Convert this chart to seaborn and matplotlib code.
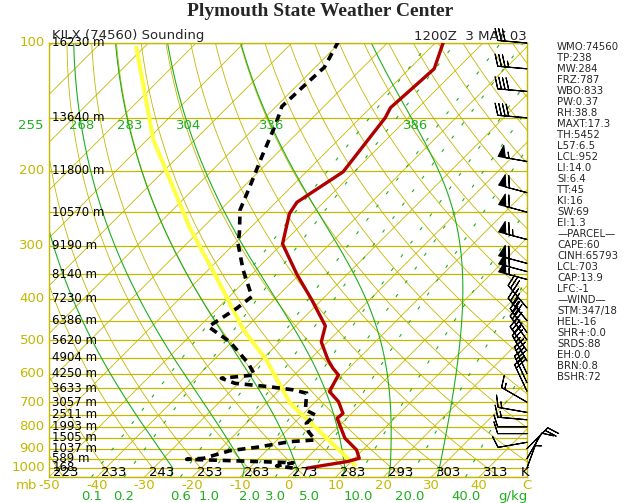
import numpy as np
import pandas as pd
import matplotlib
matplotlib.use("Agg")
import matplotlib.pyplot as plt
import seaborn as sns

# sounding values (pressure mb, temperature C)
temp_p = [99, 115, 142, 150, 201, 237, 252, 297, 351, 402, 463, 505, 557, 583,
          604, 661, 698, 744, 764, 851, 907, 949, 966, 989, 1001]
temp_t = [-58.6, -54.8, -55.8, -54.8, -52.3, -55.6, -54.8, -49.9, -40.4, -32.1,
          -23.8, -21.3, -16.1, -13.3, -10.8, -9.2, -5.2, -1.8, -2.0, 3.8, 8.7,
          11.0, 9.1, 4.4, 2.1]
dew_p = [99, 114, 127, 141, 155, 185, 218, 247, 280, 297, 342, 395, 421, 465,
         505, 567, 604, 615, 632, 644, 655, 667, 698, 730, 750, 785, 821, 859,
         867, 894, 910, 949, 954, 961, 972, 989, 1000]
dew_t = [-80.6, -78.1, -78.5, -78.8, -76.4, -72.5, -68.7, -65.9, -61.2, -59.2,
         -52.7, -45.3, -46.0, -48.1, -40.4, -32.1, -28.3, -34.6, -30.7, -22.7,
         -17.1, -13.6, -12.0, -10.4, -7.3, -7.4, -5.2, -2.1, -7.0, -12.8, -17.6,
         -21.6, -24.9, -15.5, -1.9, -4.7, -0.9]
parcel_p = [102.6, 169, 273, 349, 473, 557, 704, 984]
parcel_t = [-121.5, -98.7, -72.5, -57.9, -40.1, -29.0, -15.0, 11.5]

wind_p = [100, 115, 130, 150, 190, 225, 250, 290, 330, 345, 360, 420, 450, 480,
          500, 530, 560, 600, 630, 660, 700, 740, 770, 800, 830, 870, 900, 950, 1000]
wind_dir = [275, 275, 275, 275, 280, 285, 285, 285, 285, 285, 285, 320, 320, 325,
            325, 325, 330, 335, 335, 335, 300, 280, 275, 270, 270, 260, 45, 30, 20]
wind_spd = [30, 35, 40, 40, 55, 60, 60, 65, 60, 60, 55, 35, 35, 30,
            30, 30, 25, 25, 25, 20, 15, 15, 15, 10, 10, 10, 20, 10, 5]

isobars = list(range(100, 1051, 50))
p_labels = [100, 200, 300, 400, 500, 600, 700, 800, 900, 1000]
hgt_p = [100, 150, 200, 250, 300, 350, 400, 450, 500, 550, 600, 650, 700, 750,
         800, 850, 900, 950, 1000]
hgt_txt = ["16230 m", "13640 m", "11800 m", "10570 m", "9190 m", "8140 m",
           "7230 m", "6386 m", "5620 m", "4904 m", "4250 m", "3633 m", "3057 m",
           "2511 m", "1993 m", "1505 m", "1037 m", "589 m", "168"]
theta_lbl = [223, 233, 243, 253, 263, 273, 283, 293, 303, 313]
moist_start = [-26, -11, 0, 10, 19.5, 29.8]
moist_txt = ["255", "268", "283", "304", "336", "386"]
mix_vals = [0.1, 0.2, 0.6, 1.0, 2.0, 3.0, 5.0, 10.0, 20.0, 40.0]
stats = ["WMO:74560", "TP:238", "MW:284", "FRZ:787", "WBO:833", "PW:0.37",
         "RH:38.8", "MAXT:17.3", "TH:5452", "L57:6.5", "LCL:952", "LI:14.0",
         "SI:6.4", "TT:45", "KI:16", "SW:69", "EI:1.3", "\u2014PARCEL\u2014",
         "CAPE:60", "CINH:65793", "LCL:703", "CAP:13.9", "LFC:-1", "\u2014WIND\u2014",
         "STM:347/18", "HEL:-16", "SHR+:0.0", "SRDS:88", "EH:0.0", "BRN:0.8",
         "BSHR:72"]

OLIVE = "#c4b800"
GREEN = "#1fae1f"
SKEW = 88.9
P0 = 1050.0


def skew_x(t, p):
    return np.asarray(t, float) + SKEW * np.log10(P0 / np.asarray(p, float))


def moist_adiabat(t0, pres):
    # simple pseudo-adiabatic integration from 1000 mb
    out = []
    t = t0 + 273.15
    prev = pres[0]
    for p in pres:
        dp = p - prev
        tc = t - 273.15
        es = 6.112 * np.exp(17.67 * tc / (tc + 243.5))
        rs = 0.622 * es / (p - es)
        num = 287.0 * t + 2.5e6 * rs
        den = 1004.0 + 2.5e6 ** 2 * rs * 0.622 / (287.0 * t * t)
        t = t + dp * (num / den) / p
        out.append(t - 273.15)
        prev = p
    return np.array(out)


sns.set_style("white")
plt.rcParams["font.family"] = ["DejaVu Sans"]

fig = plt.figure(figsize=(6.4, 5.03), dpi=100)
ax = fig.add_axes([49 / 640, 1 - 477 / 503, 478 / 640, 434 / 503])
ax.set_yscale("log")
ax.set_ylim(1050, 100)
ax.set_xlim(-50, 50)
ax.set_xticks([])
ax.set_yticks([])
ax.minorticks_off()
for s in ax.spines.values():
    s.set_color(OLIVE)
    s.set_linewidth(1)

pp = np.geomspace(1050, 100, 200)
# isobars
for p in isobars:
    ax.axhline(p, color=OLIVE, lw=0.9, zorder=1)
# isotherms
for t in range(-140, 60, 10):
    ax.plot(skew_x([t, t], [1050, 100]), [1050, 100], color=OLIVE, lw=0.6, zorder=1)
# dry adiabats
for th in range(213, 480, 10):
    tt = th * (pp / 1000.0) ** 0.286 - 273.15
    ax.plot(skew_x(tt, pp), pp, color=OLIVE, lw=0.6, zorder=1)
# moist adiabats
pm = np.geomspace(1000, 100, 300)
pm_full = np.concatenate([[1050], pm])
for t0, lbl in zip(moist_start, moist_txt):
    tm = moist_adiabat(t0, pm)
    tm = np.concatenate([[t0 + 1.5], tm])
    ax.plot(skew_x(tm, pm_full), pm_full, color=GREEN, lw=0.8, zorder=2)
    i = np.argmin(np.abs(pm - 156))
    ax.text(skew_x(tm[i + 1], 156), 156, lbl, color=GREEN, fontsize=9.5,
            ha="center", va="center", clip_on=False, zorder=6)
# mixing ratio lines
for w in mix_vals:
    e = w * pp / (622.0 + w)
    td = 243.5 * np.log(e / 6.112) / (17.67 - np.log(e / 6.112))
    ax.plot(skew_x(td, pp), pp, color=GREEN, lw=0.8, ls=(0, (3, 12)), zorder=2)
    e0 = w * 1050 / (622.0 + w)
    td0 = 243.5 * np.log(e0 / 6.112) / (17.67 - np.log(e0 / 6.112))
    ax.text(skew_x(td0, 1050), 1170, f"{w:.1f}", color=GREEN, fontsize=9.5,
            ha="center", va="center", clip_on=False)
ax.text(47, 1170, "g/kg", color=GREEN, fontsize=9.5, ha="center", va="center", clip_on=False)

# profiles
prof = pd.DataFrame({"x": skew_x(parcel_t, parcel_p), "p": parcel_p})
sns.lineplot(data=prof, x="x", y="p", sort=False, ax=ax, color="#ffff44", lw=3, zorder=4)
prof = pd.DataFrame({"x": skew_x(dew_t, dew_p), "p": dew_p})
sns.lineplot(data=prof, x="x", y="p", sort=False, ax=ax, color="black", lw=2.6,
             ls=(0, (2.2, 1.6)), zorder=5)
prof = pd.DataFrame({"x": skew_x(temp_t, temp_p), "p": temp_p})
sns.lineplot(data=prof, x="x", y="p", sort=False, ax=ax, color="#b00000", lw=2.4, zorder=5)
ax.set_xlabel("")
ax.set_ylabel("")

# wind barbs on right edge
d = np.deg2rad(wind_dir)
u = -np.array(wind_spd) * np.sin(d)
v = -np.array(wind_spd) * np.cos(d)
ax.barbs(np.full(len(wind_p), 50.0), wind_p, u, v, length=6.5, lw=0.8,
         color="black", clip_on=False, zorder=7, sizes=dict(emptybarb=0))

# texts
for p in p_labels:
    ax.text(-50.9, p, str(p), color=OLIVE, fontsize=9.5, ha="right", va="center", clip_on=False)
for p, t in zip(hgt_p, hgt_txt):
    ax.text(-49.3, p, t, color="black", fontsize=8.5, ha="left", va="center", zorder=8)
for th in theta_lbl:
    ax.text(skew_x(th - 273.15, 1000) + 1.8, 1022, str(th), color="black", fontsize=9.5,
            ha="center", va="center", zorder=8, clip_on=False)
ax.text(49.5, 1022, "K", color="black", fontsize=9.5, ha="center", va="center")
for t in range(-50, 50, 10):
    ax.text(t, 1100, str(t), color=OLIVE, fontsize=9.5, ha="center", va="center", clip_on=False)
ax.text(50, 1100, "C", color=OLIVE, fontsize=9.5, ha="center", va="center", clip_on=False)
ax.text(-52.5, 1100, "mb", color=OLIVE, fontsize=9.5, ha="right", va="center", clip_on=False)

fig.text(52 / 640, 1 - 36 / 503, "KILX (74560) Sounding", fontsize=9.5, ha="left", va="center")
fig.text(527 / 640, 1 - 36 / 503, "1200Z  3 MAY 03", fontsize=9.5, ha="right", va="center")
fig.text(320 / 640, 1 - 11 / 503, "Plymouth State Weather Center", fontsize=14,
         fontweight="bold", family="Liberation Serif", ha="center", va="center")
for i, s in enumerate(stats):
    fig.text(557 / 640, 1 - (47 + 11 * i) / 503, s, fontsize=7.3, ha="left", va="center")

fig.savefig("out.png", dpi=100)
